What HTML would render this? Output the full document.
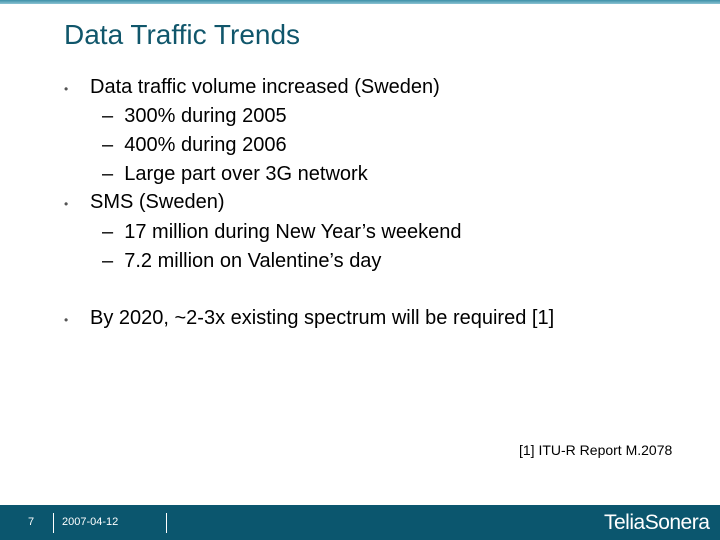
<!DOCTYPE html>
<html><head><meta charset="utf-8"><style>
body{margin:0;width:720px;height:540px;position:relative;background:#fff;font-family:"Liberation Sans",sans-serif;overflow:hidden}
.a{position:absolute;white-space:nowrap}
.t{font-size:20px;color:#000}
.b{font-size:12px;color:#555}
</style></head><body>
<div class="a" style="left:0;top:0;width:720px;height:4px;background:linear-gradient(#3d8fa8,#8cc3d3)"></div>
<div class="a" style="left:64px;top:19px;font-size:28px;color:#10566b">Data Traffic Trends</div>
<div class="a b" style="left:64px;top:82px">•</div>
<div class="a t" style="left:90px;top:76px">Data traffic volume increased (Sweden)</div>
<div class="a t" style="left:102px;top:105px">–&nbsp; 300% during 2005</div>
<div class="a t" style="left:102px;top:134px">–&nbsp; 400% during 2006</div>
<div class="a t" style="left:102px;top:163px">–&nbsp; Large part over 3G network</div>
<div class="a b" style="left:64px;top:197px">•</div>
<div class="a t" style="left:90px;top:191px">SMS (Sweden)</div>
<div class="a t" style="left:102px;top:221px">–&nbsp; 17 million during New Year’s weekend</div>
<div class="a t" style="left:102px;top:250px">–&nbsp; 7.2 million on Valentine’s day</div>
<div class="a b" style="left:64px;top:313px">•</div>
<div class="a t" style="left:90px;top:307px">By 2020, ~2-3x existing spectrum will be required [1]</div>
<div class="a" style="left:519px;top:442px;font-size:14px">[1] ITU-R Report M.2078</div>
<div class="a" style="left:0;top:505px;width:720px;height:35px;background:#0b566e">
<div class="a" style="left:28px;top:11px;font-size:11px;color:#fff">7</div>
<div class="a" style="left:53px;top:8px;width:1px;height:20px;background:#fff"></div>
<div class="a" style="left:62px;top:11px;font-size:11px;color:#fff">2007-04-12</div>
<div class="a" style="left:166px;top:8px;width:1px;height:20px;background:#fff"></div>
<div class="a" style="left:604px;top:6px;font-size:21px;color:#fff;letter-spacing:-0.5px">TeliaSonera</div>
</div>
</body></html>
